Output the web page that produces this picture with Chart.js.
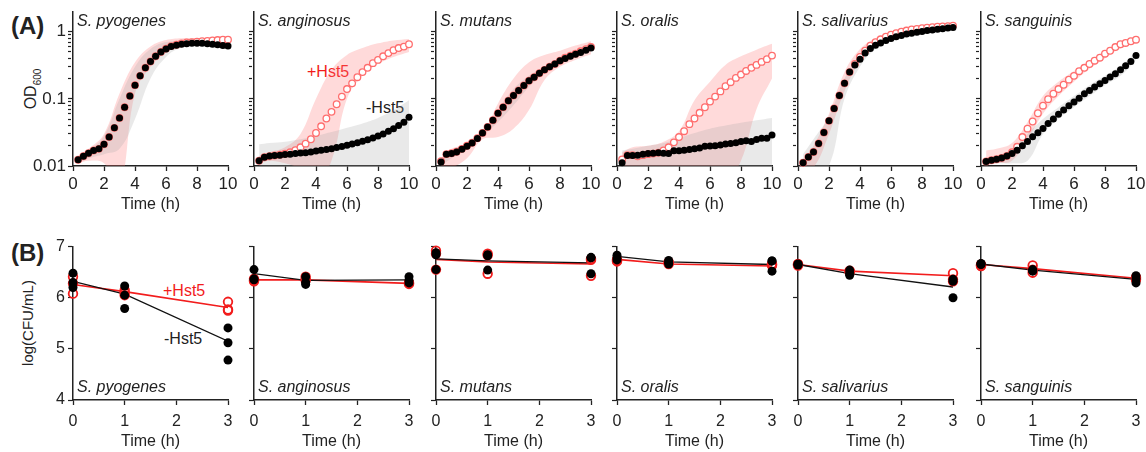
<!DOCTYPE html>
<html>
<head>
<meta charset="UTF-8">
<title>Hst5 growth curves and CFU</title>
<script src="https://cdn.jsdelivr.net/npm/chart.js@4.4.0/dist/chart.umd.min.js"></script>
<style>
  body {margin: 0; background: #fff; font-family: "Liberation Sans", Arial, sans-serif;}
  #fig {position: relative; width: 1146px; height: 452px; overflow: hidden;}
  #fig canvas {position: absolute;}
  .lbl {position: absolute; white-space: nowrap; color: #222; line-height: 1;}
  .panel {font-weight: bold; font-size: 24px;}
  .sp {font-style: italic; font-size: 16px;}
  .ytitle {font-size: 15px; transform: translate(-50%, -50%) rotate(-90deg);}
  .ytitle sub {font-size: 10px;}
  .hst {font-size: 16px;}
  .red {color: #f21c1c;}
</style>
</head>
<body>
<div id="fig">
  <div class="lbl panel" style="left:11px;top:14px">(A)</div>
  <div class="lbl panel" style="left:11px;top:241px">(B)</div>
  <div class="lbl ytitle" style="left:33px;top:89px;font-size:16px">OD<sub>600</sub></div>
  <div class="lbl ytitle" style="left:27px;top:323px">log(CFU/mL)</div>
  <div class="lbl hst red" style="left:307px;top:64px">+Hst5</div>
  <div class="lbl hst" style="left:366px;top:100px">-Hst5</div>
  <div class="lbl hst red" style="left:163px;top:283px">+Hst5</div>
  <div class="lbl hst" style="left:164px;top:331px">-Hst5</div>
</div>
<script>
// ---- data ----
const species = ['S. pyogenes', 'S. anginosus', 'S. mutans', 'S. oralis', 'S. salivarius', 'S. sanguinis'];

// (A) OD600, readings every 20 min
const hours = [0.33,0.67,1,1.33,1.67,2,2.33,2.67,3,3.33,3.67,4,4.33,4.67,5,5.33,5.67,6,6.33,6.67,7,7.33,7.67,8,8.33,8.67,9,9.33,9.67,10];
const bandHours = [0.33,1,2,3,4,5,6,7,8,9,10];
const odMajor = [0.01, 0.1, 1];
const odTicks = [0.01,0.02,0.03,0.04,0.05,0.06,0.07,0.08,0.09,0.1,0.2,0.3,0.4,0.5,0.6,0.7,0.8,0.9,1];

const pyoNo  = [0.0124,0.014,0.0155,0.017,0.018,0.021,0.027,0.037,0.052,0.075,0.11,0.16,0.22,0.29,0.36,0.43,0.5,0.55,0.6,0.63,0.65,0.66,0.67,0.67,0.67,0.66,0.65,0.64,0.62,0.61];
const pyoHst = [0.0124,0.014,0.0155,0.017,0.018,0.021,0.027,0.037,0.052,0.075,0.11,0.16,0.22,0.29,0.36,0.43,0.5,0.56,0.61,0.64,0.67,0.69,0.7,0.71,0.72,0.73,0.74,0.75,0.76,0.76];
const pyoNoHi  = [0.014,0.017,0.028,0.1,0.3,0.55,0.7,0.72,0.72,0.7,0.68];
const pyoNoLo  = [0.011,0.013,0.015,0.018,0.05,0.2,0.42,0.58,0.62,0.6,0.58];
const pyoHstHi = [0.014,0.018,0.03,0.12,0.35,0.6,0.75,0.8,0.8,0.8,0.8];
const pyoHstLo = [0.011,0.012,0.011,0.005,0.12,0.3,0.5,0.62,0.65,0.66,0.67];

const angNo  = [0.012,0.0135,0.0141,0.0143,0.0145,0.0148,0.015,0.0153,0.0156,0.0158,0.0162,0.0167,0.0171,0.0176,0.0181,0.0188,0.0195,0.0203,0.0212,0.0222,0.0233,0.0247,0.0262,0.028,0.03,0.033,0.036,0.04,0.045,0.053];
const angHst = [0.012,0.0135,0.014,0.0143,0.0147,0.0152,0.016,0.0172,0.019,0.0215,0.025,0.031,0.039,0.051,0.064,0.083,0.108,0.14,0.17,0.21,0.25,0.29,0.34,0.38,0.43,0.48,0.53,0.57,0.6,0.65];
const angNoHi  = [0.021,0.022,0.023,0.025,0.028,0.032,0.037,0.043,0.052,0.068,0.095];
const angNoLo  = [0.005,0.005,0.005,0.005,0.005,0.005,0.005,0.005,0.005,0.005,0.005];
const angHstHi = [0.014,0.016,0.019,0.03,0.1,0.27,0.45,0.57,0.67,0.74,0.78];
const angHstLo = [0.011,0.012,0.011,0.009,0.006,0.012,0.1,0.22,0.33,0.42,0.5];

const mutNo  = [0.0115,0.0149,0.0153,0.0162,0.0178,0.0197,0.022,0.0257,0.031,0.038,0.048,0.061,0.075,0.094,0.112,0.133,0.158,0.186,0.21,0.24,0.27,0.3,0.33,0.37,0.4,0.43,0.46,0.49,0.53,0.57];
const mutHst = [0.0118,0.015,0.0155,0.0163,0.018,0.02,0.0222,0.026,0.031,0.038,0.048,0.061,0.075,0.094,0.112,0.133,0.158,0.186,0.21,0.24,0.27,0.3,0.33,0.37,0.41,0.44,0.47,0.51,0.55,0.59];
const mutNoHi  = [0.013,0.017,0.021,0.033,0.07,0.14,0.22,0.3,0.4,0.5,0.62];
const mutNoLo  = [0.01,0.013,0.018,0.028,0.045,0.08,0.15,0.24,0.33,0.42,0.52];
const mutHstHi = [0.013,0.018,0.021,0.03,0.085,0.2,0.35,0.45,0.52,0.62,0.72];
const mutHstLo = [0.0095,0.0095,0.013,0.025,0.027,0.036,0.068,0.19,0.3,0.38,0.46];

const oraNo  = [0.0112,0.0143,0.0143,0.0145,0.0149,0.0153,0.0155,0.0158,0.0155,0.0154,0.0168,0.0168,0.0172,0.0176,0.018,0.0186,0.0197,0.0199,0.0201,0.0206,0.0212,0.0217,0.0222,0.0232,0.0237,0.0232,0.0248,0.0258,0.026,0.0289];
const oraHst = [0.0125,0.0145,0.0145,0.014,0.0145,0.015,0.0153,0.0158,0.017,0.019,0.0225,0.027,0.033,0.042,0.051,0.062,0.075,0.091,0.108,0.129,0.154,0.177,0.205,0.23,0.26,0.29,0.32,0.355,0.39,0.44];
const oraNoHi  = [0.017,0.018,0.02,0.022,0.026,0.031,0.036,0.04,0.044,0.048,0.052];
const oraNoLo  = [0.005,0.005,0.005,0.005,0.005,0.005,0.005,0.005,0.005,0.005,0.005];
const oraHstHi = [0.016,0.019,0.02,0.023,0.033,0.095,0.18,0.32,0.43,0.54,0.66];
const oraHstLo = [0.006,0.006,0.006,0.006,0.006,0.006,0.006,0.006,0.012,0.07,0.2];

const salNo  = [0.0112,0.0136,0.0162,0.0216,0.0316,0.047,0.072,0.112,0.17,0.25,0.32,0.39,0.48,0.56,0.63,0.68,0.74,0.79,0.84,0.88,0.92,0.95,0.98,1.01,1.04,1.06,1.09,1.11,1.13,1.15];
const salHst = [0.0112,0.0136,0.0162,0.0216,0.0316,0.047,0.072,0.112,0.17,0.25,0.33,0.42,0.52,0.62,0.7,0.77,0.84,0.9,0.95,1.0,1.04,1.08,1.1,1.13,1.15,1.17,1.19,1.2,1.21,1.23];
const salNoHi  = [0.015,0.025,0.055,0.2,0.45,0.7,0.86,0.97,1.06,1.13,1.18];
const salNoLo  = [0.008,0.008,0.01,0.1,0.3,0.55,0.72,0.86,0.96,1.04,1.1];
const salHstHi = [0.012,0.02,0.06,0.25,0.55,0.8,0.97,1.1,1.2,1.27,1.32];
const salHstLo = [0.0095,0.0095,0.03,0.13,0.36,0.6,0.82,0.98,1.06,1.12,1.15];

const sanNo  = [0.0117,0.0122,0.0126,0.0132,0.0141,0.0153,0.0172,0.02,0.0232,0.0272,0.0313,0.0363,0.0431,0.05,0.0589,0.0683,0.0786,0.09,0.102,0.119,0.133,0.15,0.168,0.188,0.211,0.237,0.27,0.31,0.36,0.44];
const sanHst = [0.0117,0.0122,0.0126,0.0132,0.0141,0.016,0.0193,0.027,0.036,0.046,0.061,0.079,0.099,0.119,0.14,0.162,0.193,0.22,0.258,0.29,0.33,0.37,0.41,0.47,0.52,0.59,0.65,0.68,0.72,0.76];
const sanNoHi  = [0.013,0.014,0.018,0.03,0.05,0.075,0.11,0.16,0.22,0.31,0.5];
const sanNoLo  = [0.0105,0.011,0.011,0.012,0.03,0.05,0.075,0.11,0.16,0.22,0.38];
const sanHstHi = [0.017,0.018,0.022,0.045,0.11,0.18,0.26,0.37,0.52,0.7,0.85];
const sanHstLo = [0.0105,0.011,0.012,0.025,0.06,0.11,0.18,0.28,0.4,0.56,0.68];

// (B) log(CFU/mL), three replicates at 0, 1 and 3 h, and the connecting means
const cfuHours = [0, 1, 3];
const cfuTicks = [4, 5, 6, 7];

const pyoCfuNo  = [[6.48,6.3,6.2],[6.23,6.05,5.79],[5.41,5.12,4.78]];
const pyoCfuHst = [[6.41,6.28,6.08],[6.15,6.1,6.05],[5.92,5.77,5.75]];
const pyoMeanNo = [6.32,6.07,5.15];
const pyoMeanHst = [6.26,6.12,5.81];

const angCfuNo  = [[6.55,6.35,6.37],[6.41,6.26,6.3],[6.41,6.34,6.29]];
const angCfuHst = [[6.34,6.37,6.32],[6.41,6.34,6.36],[6.28,6.3,6.27]];
const angMeanNo = [6.47,6.34,6.35];
const angMeanHst = [6.35,6.35,6.28];

const mutCfuNo  = [[6.88,6.84,6.55],[6.84,6.82,6.54],[6.79,6.78,6.47]];
const mutCfuHst = [[6.92,6.86,6.55],[6.86,6.83,6.47],[6.76,6.74,6.43]];
const mutMeanNo = [6.76,6.72,6.68];
const mutMeanHst = [6.75,6.7,6.66];

const oraCfuNo  = [[6.83,6.78,6.74],[6.73,6.69,6.66],[6.72,6.72,6.52]];
const oraCfuHst = [[6.73,6.75,6.71],[6.68,6.7,6.66],[6.65,6.63,6.66]];
const oraMeanNo = [6.81,6.7,6.65];
const oraMeanHst = [6.75,6.66,6.62];

const salCfuNo  = [[6.65,6.64,6.66],[6.54,6.48,6.44],[6.36,6.32,6.0]];
const salCfuHst = [[6.65,6.63,6.66],[6.52,6.5,6.53],[6.48,6.32,6.36]];
const salMeanNo = [6.65,6.47,6.21];
const salMeanHst = [6.65,6.52,6.43];

const sanCfuNo  = [[6.66,6.65,6.67],[6.55,6.52,6.53],[6.43,6.37,6.29]];
const sanCfuHst = [[6.63,6.65,6.62],[6.63,6.49,6.55],[6.37,6.4,6.35]];
const sanMeanNo = [6.66,6.54,6.36];
const sanMeanHst = [6.65,6.57,6.38];

const odNo = [pyoNo, angNo, mutNo, oraNo, salNo, sanNo];
const odHst = [pyoHst, angHst, mutHst, oraHst, salHst, sanHst];
const bandNo = [[pyoNoLo, pyoNoHi], [angNoLo, angNoHi], [mutNoLo, mutNoHi], [oraNoLo, oraNoHi], [salNoLo, salNoHi], [sanNoLo, sanNoHi]];
const bandHst = [[pyoHstLo, pyoHstHi], [angHstLo, angHstHi], [mutHstLo, mutHstHi], [oraHstLo, oraHstHi], [salHstLo, salHstHi], [sanHstLo, sanHstHi]];
const cfuNo = [pyoCfuNo, angCfuNo, mutCfuNo, oraCfuNo, salCfuNo, sanCfuNo];
const cfuHst = [pyoCfuHst, angCfuHst, mutCfuHst, oraCfuHst, salCfuHst, sanCfuHst];
const meanNo = [pyoMeanNo, angMeanNo, mutMeanNo, oraMeanNo, salMeanNo, sanMeanNo];
const meanHst = [pyoMeanHst, angMeanHst, mutMeanHst, oraMeanHst, salMeanHst, sanMeanHst];

// ---- layout ----
const fig = document.getElementById('fig');
const axisLeft = [73, 254, 436, 617, 798, 981];
const YW = 60, PW = 155, PR = 16, CH = 218;
const INK = '#222';

Chart.defaults.font.family = '"Liberation Sans", Arial, sans-serif';
Chart.defaults.color = INK;

function pts(xs, ys) {
  return xs.map((x, i) => ({x: x, y: ys[i]}));
}

function reps(xs, groups) {
  return xs.flatMap((x, k) => groups[k].map(v => ({x: x, y: v})));
}

function addCanvas(i, top) {
  const cv = document.createElement('canvas');
  cv.width = YW + PW + PR;
  cv.height = CH;
  cv.style.left = (axisLeft[i] - YW) + 'px';
  cv.style.top = top + 'px';
  fig.appendChild(cv);
  return cv;
}

function addLabel(text, left, top) {
  const d = document.createElement('div');
  d.className = 'lbl sp';
  d.style.left = left + 'px';
  d.style.top = top + 'px';
  d.textContent = text;
  fig.appendChild(d);
}

function xScale(max, step, tickSize, pad, titlePad) {
  return {
    type: 'linear', min: 0, max: max,
    ticks: {stepSize: step, font: {size: tickSize}, padding: pad, maxRotation: 0},
    grid: {drawOnChartArea: false, tickLength: 5, tickColor: INK, tickWidth: 1.3},
    border: {color: INK, width: 1.5},
    title: {display: true, text: 'Time (h)', font: {size: 16}, padding: {top: 0, bottom: titlePad}},
    afterFit: s => { s.height = 52; }
  };
}

const baseOpts = {
  responsive: false,
  animation: false,
  events: [],
  layout: {padding: {top: 12, right: PR, left: 0, bottom: 0}},
  plugins: {legend: {display: false}, tooltip: {enabled: false}}
};

// (A) growth curves
species.forEach((name, i) => {
  const cv = addCanvas(i, 0);
  const band = (ys, color, fill) => ({
    data: pts(bandHours, ys), fill: fill ? '+1' : false, backgroundColor: color,
    borderWidth: 0, pointRadius: 0, tension: 0.4
  });
  new Chart(cv, {
    type: 'line',
    data: {datasets: [
      {data: pts(hours, odNo[i]), showLine: false, pointRadius: 3.5, pointBorderWidth: 0,
       pointBackgroundColor: '#000', clip: false},
      {data: pts(hours, odHst[i]), showLine: false, pointRadius: 3.3, pointBorderWidth: 1.3,
       pointBorderColor: '#ff6e6e', pointBackgroundColor: '#fff', clip: false},
      band(bandNo[i][1], 'rgba(165,165,165,0.24)', true),
      band(bandNo[i][0], 'transparent', false),
      band(bandHst[i][1], 'rgba(255,120,120,0.27)', true),
      band(bandHst[i][0], 'transparent', false)
    ]},
    options: Object.assign({}, baseOpts, {
      scales: {
        x: xScale(10, 2, 17, 3, 4),
        y: {
          type: 'logarithmic', min: 0.01, max: 1.95,
          afterBuildTicks: s => { s.ticks = odTicks.map(v => ({value: v, major: odMajor.includes(v)})); },
          ticks: {autoSkip: false, padding: 2, font: {size: 17},
                  callback: v => (i === 0 && odMajor.includes(v)) ? String(v) : ''},
          grid: {drawOnChartArea: false, tickLength: 5, tickColor: INK, tickWidth: 1.2,
                 tickBorderDash: c => odMajor.includes(c.tick.value) ? [] : [3, 30]},
          border: {color: INK, width: 1.5},
          afterFit: s => { s.width = YW; }
        }
      }
    })
  });
  addLabel(name, axisLeft[i] + 4, 13);
});

// (B) killing assay
species.forEach((name, i) => {
  const cv = addCanvas(i, 234);
  new Chart(cv, {
    type: 'line',
    data: {datasets: [
      {data: reps(cfuHours, cfuNo[i]), showLine: false, pointRadius: 4.5, pointBorderWidth: 0,
       pointBackgroundColor: '#000', clip: false},
      {data: reps(cfuHours, cfuHst[i]), showLine: false, pointRadius: 4.3, pointBorderWidth: 1.8,
       pointBorderColor: '#f21c1c', pointBackgroundColor: 'rgba(255,255,255,0)', clip: false},
      {data: pts(cfuHours, meanNo[i]), borderColor: '#111', borderWidth: 1.3, pointRadius: 0, fill: false},
      {data: pts(cfuHours, meanHst[i]), borderColor: '#f21c1c', borderWidth: 1.6, pointRadius: 0, fill: false}
    ]},
    options: Object.assign({}, baseOpts, {
      scales: {
        x: xScale(3, 1, 16, 7, 1),
        y: {
          type: 'linear', min: 4, max: 7,
          afterBuildTicks: s => { s.ticks = cfuTicks.map(v => ({value: v})); },
          ticks: {autoSkip: false, padding: 3, font: {size: 16},
                  callback: v => i === 0 ? String(v) : ''},
          grid: {drawOnChartArea: false, tickLength: 5, tickColor: INK, tickWidth: 1.2},
          border: {color: INK, width: 1.5},
          afterFit: s => { s.width = YW; }
        }
      }
    })
  });
  addLabel(name, axisLeft[i] + 4, 379);
});
</script>
</body>
</html>
